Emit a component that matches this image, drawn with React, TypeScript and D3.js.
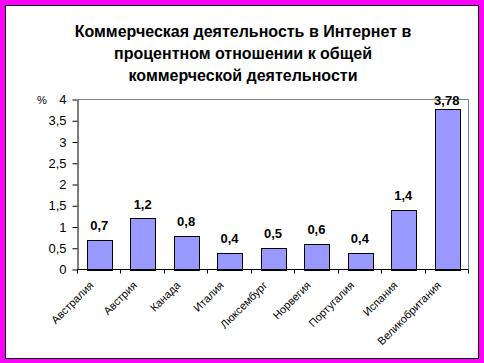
import React, { useRef, useEffect } from "react";
import * as d3 from "d3";

const categories = [
  "Австралия",
  "Австрия",
  "Канада",
  "Италия",
  "Люксембург",
  "Норвегия",
  "Португалия",
  "Испания",
  "Великобритания",
];
const values = [0.7, 1.2, 0.8, 0.4, 0.5, 0.6, 0.4, 1.4, 3.78];
const valueLabels = ["0,7", "1,2", "0,8", "0,4", "0,5", "0,6", "0,4", "1,4", "3,78"];
const yTicks = [0, 0.5, 1, 1.5, 2, 2.5, 3, 3.5, 4];
const titleLines = [
  "Коммерческая деятельность в Интернет в",
  "процентном отношении к общей",
  "коммерческой деятельности",
];

const width = 484;
const height = 363;
const font = "'Liberation Sans', Arial, sans-serif";

const App = () => {
  const ref = useRef(null);

  useEffect(() => {
    if (!ref.current) return;
    const svg = d3.select(ref.current);
    svg.selectAll("*").remove();

    // frame: magenta border with white inner panel
    svg.append("rect").attr("width", width).attr("height", height).attr("fill", "#FF00FF");
    svg
      .append("rect")
      .attr("x", 5.5)
      .attr("y", 5.5)
      .attr("width", 473)
      .attr("height", 353)
      .attr("fill", "#fff")
      .attr("stroke", "#000");

    // title
    svg
      .append("text")
      .attr("text-anchor", "middle")
      .attr("font-family", font)
      .attr("font-weight", "bold")
      .attr("font-size", 16)
      .attr("fill", "#000")
      .selectAll("tspan")
      .data(titleLines)
      .enter()
      .append("tspan")
      .attr("x", 243)
      .attr("y", (_, i) => 37 + i * 22)
      .text((d) => d);

    const left = 77.5;
    const right = 468.5;
    const top = 99.5;
    const bottom = 269.5;

    const x = d3
      .scaleBand()
      .domain(categories)
      .range([left, right])
      .paddingInner(0.435)
      .paddingOuter(0.2175);
    const y = d3.scaleLinear().domain([0, 4]).range([bottom, top]);

    // plot area outline (grey top/right)
    svg
      .append("path")
      .attr("d", `M${left},${top}H${right}V${bottom}`)
      .attr("fill", "none")
      .attr("stroke", "#808080");

    // bars
    svg
      .selectAll(".bar")
      .data(values)
      .enter()
      .append("rect")
      .attr("class", "bar")
      .attr("x", (_, i) => Math.round(x(categories[i]) ?? 0) + 0.5)
      .attr("y", (d) => Math.round(y(d)) + 0.5)
      .attr("width", Math.round(x.bandwidth()))
      .attr("height", (d) => Math.round(bottom) - Math.round(y(d)))
      .attr("fill", "#9999FF")
      .attr("stroke", "#000");

    // value labels
    svg
      .selectAll(".val")
      .data(values)
      .enter()
      .append("text")
      .attr("class", "val")
      .attr("x", (_, i) => (x(categories[i]) ?? 0) + x.bandwidth() / 2)
      .attr("y", (d) => Math.max(y(d) - 10, 105))
      .attr("text-anchor", "middle")
      .attr("font-family", font)
      .attr("font-weight", "bold")
      .attr("font-size", 13)
      .text((_, i) => valueLabels[i]);

    // y axis
    const yAxis = svg
      .append("g")
      .attr("transform", `translate(${left},0)`)
      .call(
        d3
          .axisLeft(y)
          .tickValues(yTicks)
          .tickSize(5)
          .tickSizeOuter(0)
          .tickPadding(6)
          .tickFormat((d) => String(d).replace(".", ","))
      );
    yAxis.attr("font-family", font).attr("font-size", 13);
    yAxis.selectAll("line, path").attr("stroke", "#000");
    yAxis.selectAll("text").attr("fill", "#000");

    svg
      .append("text")
      .attr("x", 37)
      .attr("y", 104)
      .attr("font-family", font)
      .attr("font-size", 11)
      .text("%");

    // x axis line + ticks at category boundaries
    svg
      .append("line")
      .attr("x1", left)
      .attr("x2", right)
      .attr("y1", bottom)
      .attr("y2", bottom)
      .attr("stroke", "#000");
    const step = x.step();
    svg
      .selectAll(".xtick")
      .data(d3.range(categories.length + 1))
      .enter()
      .append("line")
      .attr("class", "xtick")
      .attr("x1", (i) => Math.round(left + i * step - 0.5) + 0.5)
      .attr("x2", (i) => Math.round(left + i * step - 0.5) + 0.5)
      .attr("y1", bottom)
      .attr("y2", bottom + 4)
      .attr("stroke", "#000");

    // category labels
    svg
      .selectAll(".cat")
      .data(categories)
      .enter()
      .append("text")
      .attr("class", "cat")
      .attr("text-anchor", "end")
      .attr("font-family", font)
      .attr("font-size", 11)
      .attr("transform", (d) => {
        const cx = (x(d) ?? 0) + x.bandwidth() / 2 - 5;
        return `translate(${cx},286) rotate(-45)`;
      })
      .text((d) => d);
  }, []);

  return (
    <svg
      ref={ref}
      width={width}
      height={height}
      style={{ position: "absolute", left: 0, top: 0 }}
    />
  );
};

export default App;
